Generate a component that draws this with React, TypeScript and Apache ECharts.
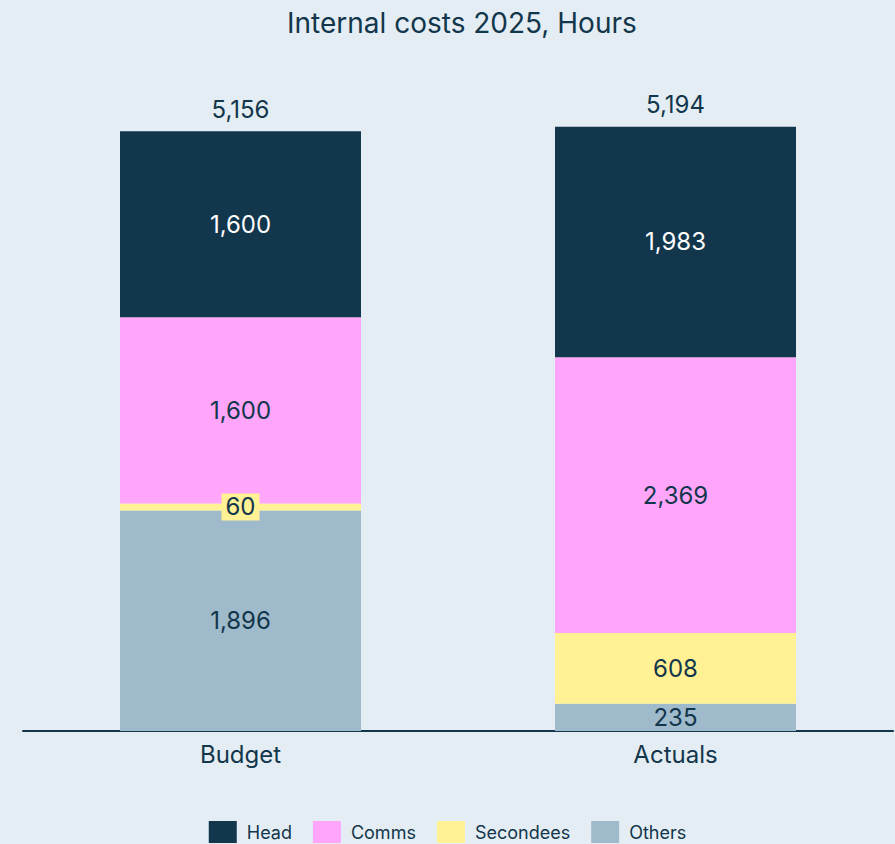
import React, { useEffect, useRef } from "react";
import * as echarts from "echarts";

const categories = ["Budget", "Actuals"];
const head = [1600, 1983];
const comms = [1600, 2369];
const secondees = [60, 608];
const others = [1896, 235];
const totals = [5156, 5194];
const legendNames = ["Head", "Comms", "Secondees", "Others"];

const DARK = "#12364b";
const FONT = "Inter, 'Noto Sans', sans-serif";

export default function App() {
  const ref = useRef<HTMLDivElement>(null);
  useEffect(() => {
    document.body.style.margin = "0";
    const chart = echarts.init(ref.current!, null, { renderer: "svg" });
    const fmt = (v: number) => v.toLocaleString("en-US");
    const lbl = (color: string, extra: any = {}) => ({
      show: true,
      position: "inside",
      color,
      fontSize: 24,
      fontFamily: FONT,
      formatter: (p: any) => fmt(p.value),
      ...extra,
    });
    chart.setOption({
      animation: false,
      backgroundColor: "#e4edf3",
      title: {
        text: "Internal costs 2025, Hours",
        left: 282,
        top: 4,
        textStyle: { color: DARK, fontSize: 28, fontWeight: "normal", fontFamily: FONT },
      },
      legend: {
        data: legendNames,
        top: 821,
        left: "center",
        padding: 0,
        itemWidth: 28,
        itemHeight: 22,
        itemGap: 21,
        icon: "rect",
        textStyle: { color: DARK, fontSize: 18, fontFamily: FONT, padding: [0, 0, 0, 5] },
      },
      grid: { left: 23, right: 2, top: 33, bottom: 113, containLabel: false },
      xAxis: {
        type: "category",
        data: categories,
        axisLine: { lineStyle: { color: DARK, width: 2 } },
        axisTick: { show: false },
        axisLabel: { color: DARK, fontSize: 24, fontFamily: FONT, margin: 11 },
      },
      yAxis: { type: "value", min: 0, max: 6000, show: false, splitLine: { show: false } },
      series: [
        {
          name: "Others", type: "bar", stack: "a", data: others, barWidth: 241,
          itemStyle: { color: "#9fbacb" }, label: lbl(DARK),
        },
        {
          name: "Secondees", type: "bar", stack: "a", data: secondees,
          itemStyle: { color: "#fff194" },
          label: lbl(DARK, { backgroundColor: "#fff194", padding: [3, 4, 0, 4] }),
        },
        {
          name: "Comms", type: "bar", stack: "a", data: comms,
          itemStyle: { color: "#ffa6fb" }, label: lbl(DARK),
        },
        {
          name: "Head", type: "bar", stack: "a", data: head,
          itemStyle: { color: DARK }, label: lbl("#ffffff"),
        },
        {
          name: "Total", type: "bar", stack: "a", data: totals.map(() => 0),
          itemStyle: { color: "transparent" },
          label: {
            show: true, position: "top", distance: 10, color: DARK, fontSize: 24, fontFamily: FONT,
            formatter: (p: any) => fmt(totals[p.dataIndex]),
          },
        },
      ],
    });
    return () => chart.dispose();
  }, []);
  return <div ref={ref} style={{ width: 895, height: 844 }} />;
}
